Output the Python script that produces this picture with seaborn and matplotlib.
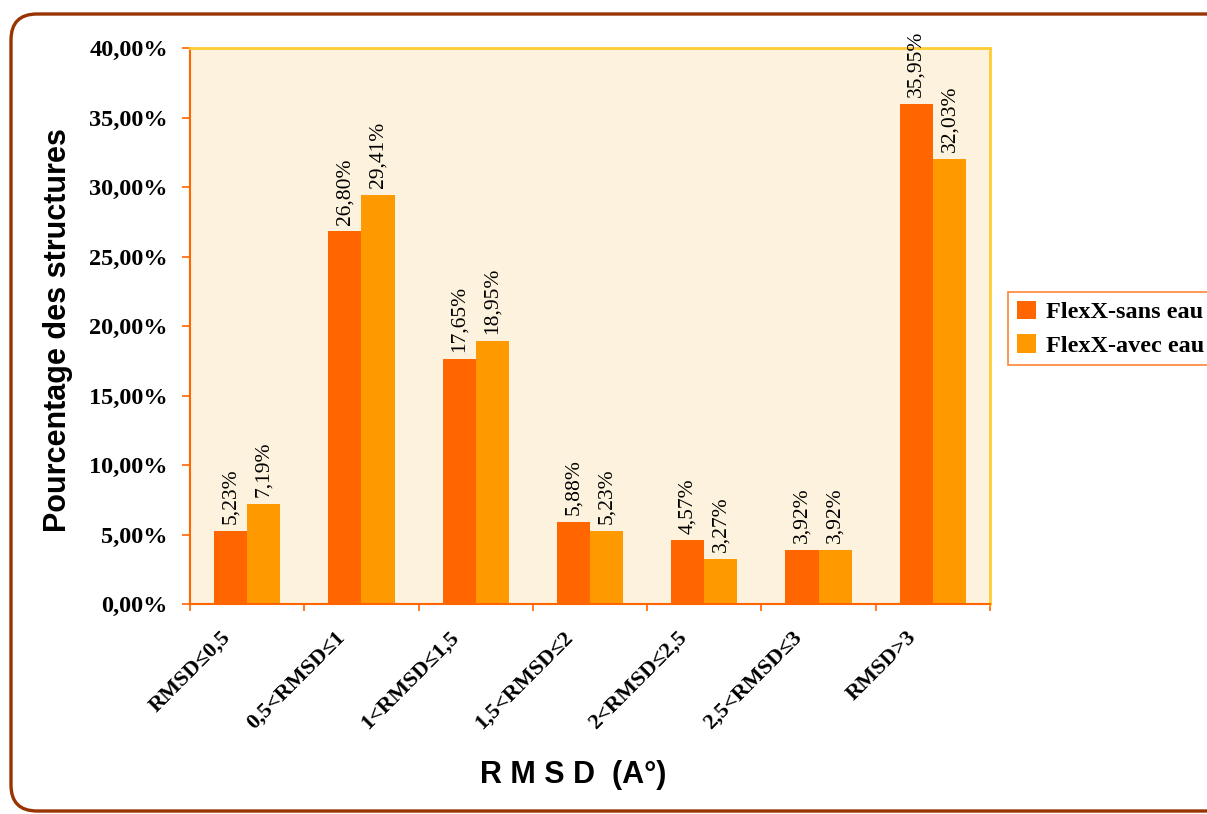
import numpy as np
import pandas as pd
import matplotlib
matplotlib.use("Agg")
import matplotlib.pyplot as plt
import matplotlib.transforms as mtransforms
from matplotlib.patches import FancyBboxPatch
from matplotlib.ticker import FixedLocator, FuncFormatter
import seaborn as sns

# ---- data ----
categories = ["RMSD≤0,5", "0,5<RMSD≤1", "1<RMSD≤1,5", "1,5<RMSD≤2",
              "2<RMSD≤2,5", "2,5<RMSD≤3", "RMSD>3"]
series_names = ["FlexX-sans eau", "FlexX-avec eau"]
sans_eau = [5.23, 26.80, 17.65, 5.88, 4.57, 3.92, 35.95]
avec_eau = [7.19, 29.41, 18.95, 5.23, 3.27, 3.92, 32.03]
y_ticks = [0, 5, 10, 15, 20, 25, 30, 35, 40]

df = pd.DataFrame({
    "cat": categories * 2,
    "serie": [series_names[0]] * len(categories) + [series_names[1]] * len(categories),
    "val": sans_eau + avec_eau,
})

sns.set_theme(style="white")
plt.rcParams['font.family'] = ['Liberation Serif', 'DejaVu Serif']
plt.rcParams['text.color'] = 'black'
plt.rcParams['axes.labelcolor'] = 'black'
plt.rcParams['xtick.color'] = 'black'
plt.rcParams['ytick.color'] = 'black'

W, H, DPI = 1207, 814, 100
fig = plt.figure(figsize=(W / DPI, H / DPI), dpi=DPI)
ax = fig.add_axes([190 / W, 1 - 604 / H, 800 / W, 556 / H])
ax.set_facecolor("#FCF2DD")

palette = {series_names[0]: "#FF6600", series_names[1]: "#FF9900"}
sns.barplot(data=df, x="cat", y="val", hue="serie", order=categories,
            hue_order=series_names, palette=palette, width=0.58,
            saturation=1, linewidth=0, ax=ax, legend=True)

ax.set_xlim(-0.5, len(categories) - 0.5)
ax.set_ylim(0, 40)

# value labels
for cont, vals in zip(ax.containers, [sans_eau, avec_eau]):
    ax.bar_label(cont, labels=[f"{v:.2f}%".replace(".", ",") for v in vals],
                 rotation=90, padding=5, fontsize=15.5,
                 family=['Liberation Serif', 'DejaVu Serif'], color="black")

# y axis
ax.yaxis.set_major_locator(FixedLocator(y_ticks))
ax.yaxis.set_major_formatter(FuncFormatter(lambda v, p: f"{v:.2f}%".replace(".", ",")))
ax.tick_params(axis="y", left=True, length=6, width=1.2, color="#FF6600",
               direction="out", pad=10, labelsize=17.5, labelcolor="black")
for lab in ax.get_yticklabels():
    lab.set_fontweight("bold")

# x axis: labels at centers, tick marks at boundaries
ax.set_xticks(range(len(categories)))
ax.set_xticklabels(categories)
ax.set_xticks(np.arange(-0.5, len(categories), 1.0), minor=True)
ax.tick_params(axis="x", which="major", bottom=True, length=0, pad=22,
               labelsize=16, labelcolor="black")
ax.tick_params(axis="x", which="minor", bottom=True, length=5, width=1.2,
               color="#FF6600", direction="out")
offset = mtransforms.ScaledTranslation(-20 / DPI, 0, fig.dpi_scale_trans)
for lab in ax.get_xticklabels():
    lab.set_rotation(45)
    lab.set_ha("right")
    lab.set_va("center")
    lab.set_rotation_mode("anchor")
    lab.set_fontweight("bold")
    lab.set_transform(lab.get_transform() + offset)

for side in ["left", "bottom"]:
    ax.spines[side].set_color("#FF6600")
    ax.spines[side].set_linewidth(1.5)
for side in ["top", "right"]:
    ax.spines[side].set_color("#FFCC33")
    ax.spines[side].set_linewidth(2)
ax.spines["bottom"].set_zorder(5)

ax.set_xlabel("")
ax.set_ylabel("")
fig.text(58 / W, 1 - 330 / H, "Pourcentage des structures", rotation=90,
         ha="center", va="center", fontsize=22, fontweight="bold",
         family=['Liberation Sans', 'DejaVu Sans'], color="black")
fig.text(573 / W, 1 - 775 / H, "R M S D  (A°)", ha="center", va="center",
         fontsize=22, fontweight="bold", family=['Liberation Sans', 'DejaVu Sans'],
         color="black")

# legend
handles, labels = ax.get_legend_handles_labels()
leg = ax.legend(handles, labels, loc="upper left",
                bbox_to_anchor=(1008 / W, 1 - 292 / H), bbox_transform=fig.transFigure,
                frameon=True, fancybox=False, edgecolor="#FF6600",
                prop={"family": ['Liberation Serif', 'DejaVu Serif'], "weight": "bold", "size": 17.5},
                handlelength=0.8, handleheight=0.8, handletextpad=0.4,
                labelspacing=0.45, borderpad=0.35, borderaxespad=0)
leg.get_frame().set_linewidth(1.2)

# rounded figure border
border = FancyBboxPatch((11, 3), 1250, 797, boxstyle="round,pad=0,rounding_size=26",
                        transform=None, facecolor="none", edgecolor="#993300",
                        linewidth=2.4, zorder=10)
fig.patches.append(border)

fig.savefig("out.png", dpi=DPI, facecolor="white")
